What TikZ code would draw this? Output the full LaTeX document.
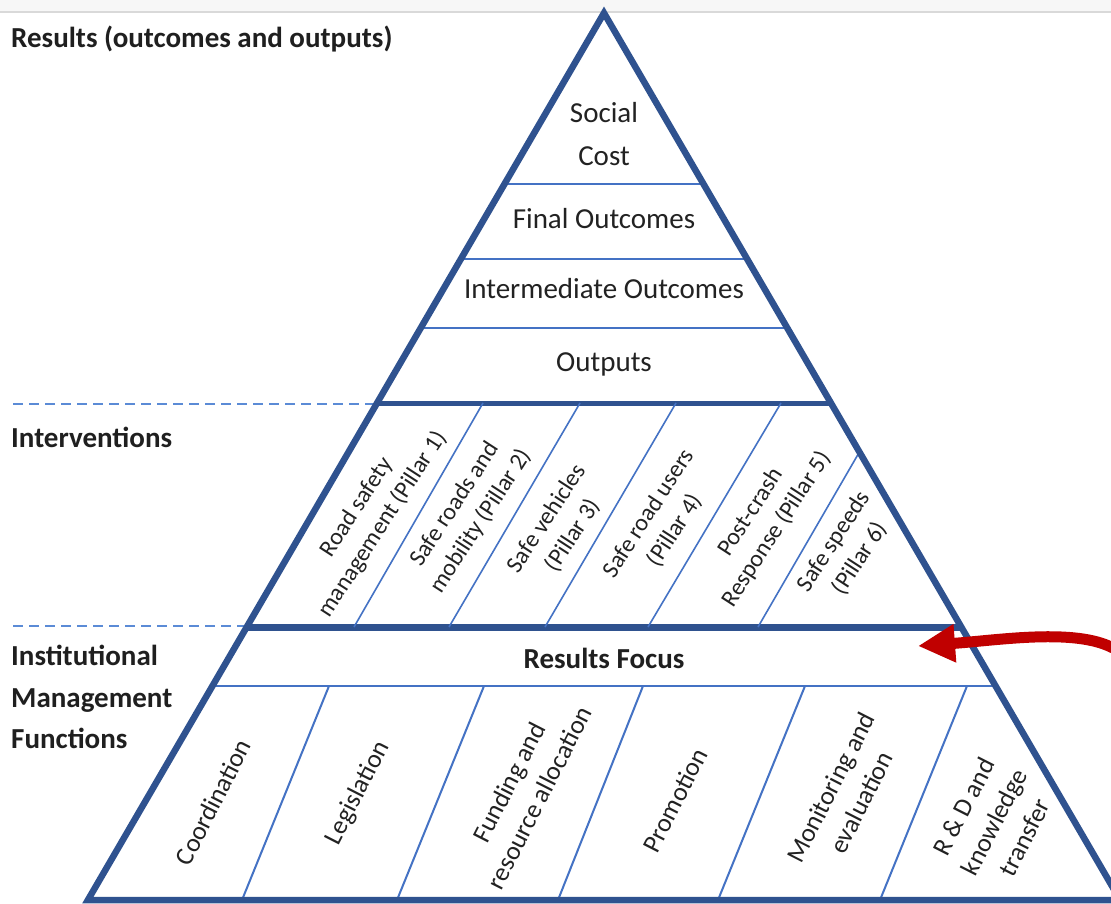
\documentclass[tikz,border=0pt]{standalone}
\usepackage{fontspec}
\setmainfont{Carlito}
\usetikzlibrary{arrows.meta}
\definecolor{frame}{HTML}{2F528F}
\definecolor{rule}{HTML}{4472C4}
\definecolor{dashc}{HTML}{5B8BD6}
\definecolor{ink}{HTML}{222222}
\definecolor{arrowred}{HTML}{C00000}

\begin{document}
\begin{tikzpicture}[x=1pt,y=-1pt,
  edge/.style={draw=frame, line width=6.5pt, line join=miter},
  band/.style={draw=rule, line width=2pt},
  slant/.style={draw=rule, line width=1.6pt},
  guide/.style={draw=dashc, line width=2.8pt, dash pattern=on 10pt off 6pt},
  head/.style={font=\fontsize{29}{35}\selectfont\bfseries, text=black!88, inner sep=0pt, anchor=base west},
  tier/.style={font=\fontsize{29}{35}\selectfont, text=ink, inner sep=0pt, anchor=base},
  pillar/.style={font=\fontsize{24}{31}\selectfont, text=ink, inner sep=0pt, align=center, rotate=57},
  func/.style={font=\fontsize{26}{34}\selectfont, text=ink, inner sep=0pt, align=center, rotate=63},
]
\useasboundingbox (0,0) rectangle (1111,903);
\clip (0,0) rectangle (1111,903);
\fill[white] (0,0) rectangle (1111,903);
% faint strip along the top edge
\fill[black!3] (0,0) rectangle (1111,11);
\draw[black!15, line width=1.5pt] (0,12) -- (1111,12);

% corner points of the pyramid
\coordinate (apex) at (604,13);
\coordinate (bl) at (87.9,900);
\coordinate (br) at (1120.1,900);

% dashed guides between the three groups
\draw[guide] (13,404) -- (377,404);
\draw[guide] (13,626) -- (247,626);

% result tiers
\draw[band] (504.5,184) -- (703.5,184);
\draw[band] (460.9,259) -- (747.1,259);
\draw[band] (420.7,328) -- (787.3,328);

% group boundaries
\draw[draw=frame, line width=5pt] (377.1,403) -- (830.9,403);
\draw[draw=frame, line width=7pt] (246.8,627) -- (961.2,627);
\draw[band] (212.4,686) -- (995.6,686);

% pillar dividers
\draw[slant] (483,403) -- (354,627);
\draw[slant] (580,403) -- (449,627);
\draw[slant] (676,403) -- (545,627);
\draw[slant] (781,403) -- (648,627);
\draw[slant] (859.4,452) -- (758,627);

% management function dividers
\draw[band] (329,686) -- (242,900);
\draw[band] (484,686) -- (397,900);
\draw[band] (643,686) -- (558,900);
\draw[band] (805,686) -- (718,900);
\draw[band] (967,686) -- (880,900);

% outline
\draw[edge] (bl) -- (apex) -- (br) -- cycle;

% group headings
\node[head] (hres) at (11,47) {Results (outcomes and outputs)};
\node[head] (hint) at (11,447) {Interventions};
\node[head] (hins1) at (11,665) {Institutional};
\node[head] (hins2) at (11,707) {Management};
\node[head] (hins3) at (11,748) {Functions};

% tiers
\node[tier] (soc1) at (604,122) {Social};
\node[tier] (soc2) at (604,165) {Cost};
\node[tier] (fin) at (604,228) {Final Outcomes};
\node[tier] (inter) at (604,298) {Intermediate Outcomes};
\node[tier] (outp) at (604,371) {Outputs};
\node[tier, font=\fontsize{29}{35}\selectfont\bfseries, text=black!88] (focus) at (604,668) {Results Focus};

% pillars
\node[pillar] (p1) at (370,516) {Road safety\\management (Pillar 1)};
\node[pillar] (p2) at (468,513) {Safe roads and\\mobility (Pillar 2)};
\node[pillar] (p3) at (560,527) {Safe vehicles\\(Pillar 3)};
\node[pillar] (p4) at (662,522) {Safe road users\\(Pillar 4)};
\node[pillar] (p5) at (764,521) {Post-crash\\Response (Pillar 5)};
\node[pillar] (p6) at (847,550) {Safe speeds\\(Pillar 6)};

% management functions
\node[func] (f1) at (213,802) {Coordination};
\node[func] (f2) at (358,793) {Legislation};
\node[func] (f3) at (524,790) {Funding and\\resource allocation};
\node[func] (f4) at (675,800) {Promotion};
\node[func] (f5) at (846,795) {Monitoring and\\evaluation};
\node[func] (f6) at (994,822) {R \& D and\\knowledge\\transfer};

% pointer to the results focus band
\coordinate (tail) at (1113,648);
\coordinate (tip) at (918,646);
\draw[arrowred, line width=11pt, -{Triangle[length=37pt,width=36pt]}]
  (tail) .. controls (1075,628) and (1000,640) .. (tip);
\end{tikzpicture}
\end{document}
